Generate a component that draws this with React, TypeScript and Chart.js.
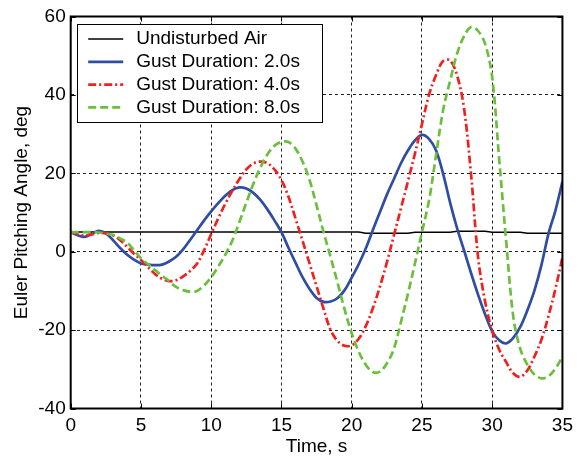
import React, { useEffect, useRef } from "react";
import { Chart, registerables } from "chart.js";

Chart.register(...registerables);

// ---- data (time in s, angles in deg) ----
const TIME = [
  0, 0.5, 1, 1.5, 2, 2.5, 3, 3.5, 4, 4.5, 5, 5.5, 6, 6.5, 7, 7.5, 8, 8.5, 9, 9.5,
  10, 10.5, 11, 11.5, 12, 12.5, 13, 13.5, 14, 14.5, 15, 15.5, 16, 16.5, 17, 17.5, 18, 18.5, 19, 19.5,
  20, 20.5, 21, 21.5, 22, 22.5, 23, 23.5, 24, 24.5, 25, 25.5, 26, 26.5, 27, 27.5, 28, 28.5, 29, 29.5,
  30, 30.5, 31, 31.5, 32, 32.5, 33, 33.5, 34, 34.5, 35,
];

const UNDISTURBED_AIR = [
  5.0, 5.0, 5.0, 5.0, 5.0, 5.0, 5.0, 5.0, 5.0, 5.0,
  5.0, 5.0, 5.0, 5.0, 5.0, 5.0, 5.0, 5.0, 5.0, 5.0,
  5.0, 5.0, 5.0, 5.0, 5.0, 5.0, 5.0, 5.0, 5.0, 5.0,
  5.0, 5.0, 5.0, 5.0, 5.0, 5.0, 5.0, 5.0, 5.0, 5.0,
  5.0, 5.0, 4.7, 4.7, 4.7, 4.7, 4.7, 4.7, 4.7, 4.95,
  4.95, 4.95, 4.95, 4.95, 4.95, 5.2, 5.2, 5.2, 5.2, 5.2,
  4.95, 4.95, 4.95, 4.95, 4.95, 4.7, 4.7, 4.7, 4.7, 4.7,
  4.7,
];

const GUST_2S = [
  5.0, 4.2, 3.8, 4.6, 5.3, 4.7, 3.0, 1.0, -0.7, -2.0, -3.0, -3.3, -3.45, -3.3, -2.5, -1.3, 0.6, 3.0, 5.5, 8.0,
  10.3, 12.4, 14.3, 15.7, 16.4, 16.1, 15.0, 13.2, 10.8, 8.0, 5.0, 1.0, -2.8, -6.5, -9.5, -11.8, -12.8, -12.7, -11.8, -9.8,
  -6.6, -3.2, 0.8, 5.5, 10.0, 14.5, 18.5, 22.5, 25.8, 28.4, 29.8, 28.8, 25.9, 20.0, 12.6, 6.0, 0.3, -5.5, -11.0, -16.0,
  -20.3, -22.6, -23.4, -22.0, -19.2, -15.0, -10.0, -3.5, 4.5, 10.5, 17.9,
];

const GUST_4S = [
  5.0, 4.5, 4.1, 4.4, 4.8, 4.7, 4.2, 3.0, 1.3, -0.5, -2.1, -3.9, -5.7, -6.9, -7.5, -7.3, -6.3, -4.9, -3.0, 0.4,
  4.5, 8.5, 12.2, 15.5, 18.5, 21.0, 22.5, 23.0, 22.6, 21.0, 18.3, 14.0, 8.5, 2.8, -3.0, -8.8, -14.6, -20.0, -22.8, -24.0,
  -23.9, -22.2, -19.0, -14.5, -9.0, -2.8, 4.1, 11.0, 17.9, 25.0, 32.5, 40.0, 45.0, 48.6, 48.8, 45.0, 36.5, 19.6, -1.5, -12.8,
  -20.2, -25.0, -28.2, -31.0, -31.9, -30.3, -26.8, -22.5, -16.5, -9.5, -1.5,
];

const GUST_8S = [
  5.0, 5.0, 5.0, 5.0, 4.9, 4.6, 4.3, 3.4, 2.4, 0.4, -1.7, -3.2, -4.7, -6.1, -7.5, -9.0, -9.8, -10.2, -10.0, -8.6,
  -6.5, -3.8, -0.8, 2.8, 7.5, 12.5, 17.3, 21.5, 24.8, 27.0, 28.0, 28.0, 26.3, 23.0, 18.3, 11.8, 5.0, -1.4, -8.0, -14.8,
  -20.8, -25.5, -28.8, -30.7, -30.6, -28.5, -24.8, -18.0, -10.8, -3.0, 5.0, 13.0, 24.5, 36.0, 43.5, 50.5, 55.0, 57.3, 56.3, 53.0,
  44.5, 23.5, 2.5, -16.5, -24.8, -28.8, -31.3, -32.3, -31.8, -29.8, -26.8,
];

const SERIES_LABELS = [
  "Undisturbed Air",
  "Gust Duration: 2.0s",
  "Gust Duration: 4.0s",
  "Gust Duration: 8.0s",
];

const X_TICKS = [0, 5, 10, 15, 20, 25, 30, 35];
const Y_TICKS = [-40, -20, 0, 20, 40, 60];

const X_TITLE = "Time, s";
const Y_TITLE = "Euler Pitching Angle, deg";

const FONT = '"Liberation Sans", Arial, Helvetica, sans-serif';

const COLORS = ["#000000", "#2f4ea3", "#f0201e", "#6cbf3c"];
const DASHES: number[][] = [[], [], [8, 3, 2, 3], [8, 4]];
const WIDTHS = [1.5, 2.7, 2.7, 2.7];

const framePlugin = {
  id: "frameAndLegend",
  afterDraw(chart: any) {
    const { ctx, chartArea } = chart;
    const { left, right, top, bottom } = chartArea;
    const xs = chart.scales.x;
    const ys = chart.scales.y;
    ctx.save();
    ctx.strokeStyle = "#000";
    ctx.lineWidth = 1;
    ctx.setLineDash([]);
    ctx.beginPath();
    X_TICKS.forEach((v) => {
      const px = Math.round(xs.getPixelForValue(v)) + 0.5;
      ctx.moveTo(px, bottom);
      ctx.lineTo(px, bottom - 5);
      ctx.moveTo(px, top);
      ctx.lineTo(px, top + 5);
    });
    Y_TICKS.forEach((v) => {
      const py = Math.round(ys.getPixelForValue(v)) + 0.5;
      ctx.moveTo(left, py);
      ctx.lineTo(left + 5, py);
      ctx.moveTo(right, py);
      ctx.lineTo(right - 5, py);
    });
    ctx.stroke();
    ctx.lineWidth = 2;
    ctx.strokeRect(left, top, right - left, bottom - top);

    // legend
    const bx = left + 6.5;
    const by = top + 7.5;
    const bw = 245;
    const bh = 98;
    ctx.fillStyle = "#fff";
    ctx.fillRect(bx, by, bw, bh);
    ctx.lineWidth = 1;
    ctx.strokeStyle = "#000";
    ctx.strokeRect(Math.round(bx) + 0.5, Math.round(by) + 0.5, bw, bh);
    ctx.font = `19px ${FONT}`;
    ctx.textBaseline = "middle";
    ctx.textAlign = "left";
    chart.data.datasets.forEach((ds: any, i: number) => {
      const rowY = by + 15 + i * 22.8;
      ctx.beginPath();
      ctx.strokeStyle = ds.borderColor;
      ctx.lineWidth = ds.borderWidth;
      ctx.setLineDash(ds.borderDash || []);
      ctx.moveTo(bx + 11, rowY);
      ctx.lineTo(bx + 46, rowY);
      ctx.stroke();
      ctx.setLineDash([]);
      ctx.fillStyle = "#000";
      ctx.fillText(ds.label, bx + 59, rowY);
    });
    ctx.restore();
  },
};

export default function App() {
  const ref = useRef<HTMLCanvasElement | null>(null);

  useEffect(() => {
    document.body.style.margin = "0";
    const canvas = ref.current;
    if (!canvas) return;
    const series = [UNDISTURBED_AIR, GUST_2S, GUST_4S, GUST_8S];
    const chart = new Chart(canvas, {
      type: "line",
      data: {
        datasets: series.map((vals, i) => ({
          label: SERIES_LABELS[i],
          data: TIME.map((t, j) => ({ x: t, y: vals[j] })),
          borderColor: COLORS[i],
          backgroundColor: COLORS[i],
          borderWidth: WIDTHS[i],
          borderDash: DASHES[i],
          pointRadius: 0,
          fill: false,
          tension: i === 0 ? 0 : 0.35,
          order: 4 - i,
        })),
      },
      options: {
        animation: false,
        responsive: false,
        devicePixelRatio: 1,
        layout: { padding: { top: 16.5, right: 10.7, left: 0, bottom: 0 } },
        plugins: {
          legend: { display: false },
          tooltip: { enabled: false },
        },
        scales: {
          x: {
            type: "linear",
            min: 0,
            max: 35,
            afterFit: (s: any) => {
              s.height = 49.5;
            },
            afterBuildTicks: (s: any) => {
              s.ticks = X_TICKS.map((v) => ({ value: v }));
            },
            ticks: {
              autoSkip: false,
              maxRotation: 0,
              padding: 6,
              color: "#000",
              font: { size: 19, family: FONT },
            },
            grid: { color: "#222", lineWidth: 1, drawTicks: false },
            border: { display: false, dash: [3, 3] },
            title: {
              display: true,
              text: X_TITLE,
              color: "#000",
              font: { size: 19, family: FONT },
              padding: { top: 0, bottom: 0 },
            },
          },
          y: {
            type: "linear",
            min: -40,
            max: 60,
            afterFit: (s: any) => {
              s.width = 70.7;
            },
            afterBuildTicks: (s: any) => {
              s.ticks = Y_TICKS.map((v) => ({ value: v }));
            },
            ticks: {
              padding: 5,
              color: "#000",
              font: { size: 19, family: FONT },
            },
            grid: { color: "#222", lineWidth: 1, drawTicks: false },
            border: { display: false, dash: [3, 3] },
            title: {
              display: true,
              text: Y_TITLE,
              color: "#000",
              font: { size: 19, family: FONT },
              padding: { top: 10.5, bottom: 0 },
            },
          },
        },
      },
      plugins: [framePlugin],
    } as any);
    return () => chart.destroy();
  }, []);

  return (
    <div style={{ width: 579, height: 458, background: "#fff" }}>
      <canvas ref={ref} width={579} height={458} style={{ display: "block" }} />
    </div>
  );
}
